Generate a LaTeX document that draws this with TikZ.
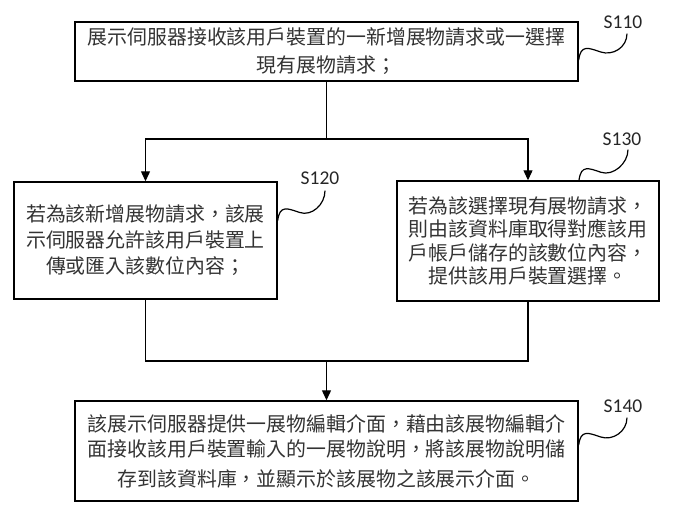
\documentclass[tikz,border=0pt]{standalone}
\usepackage{fontspec}
\setmainfont{Noto Sans CJK TC}
\newfontfamily\labelfont{Carlito}
\usetikzlibrary{arrows.meta}
\begin{document}
\begin{tikzpicture}[x=1pt,y=-1pt,
    stepbox/.style={draw=black,line width=1.4pt,inner sep=0pt,align=center,text=black!80},
    steplabel/.style={font=\labelfont\fontsize{19.5}{20}\selectfont,text=black!85,inner sep=0pt},
    link/.style={line width=1.2pt},
    arr/.style={link,-{Triangle[length=10pt,width=9pt]}},
    squig/.style={line width=1.2pt,to path={.. controls +(2,-16) and +(-12,-4) .. +(22,-8)
      .. controls +(12,4) and +(0,14) .. (\tikztotarget)}}]
  \useasboundingbox (0,0) rectangle (697,516);
  \node[stepbox,minimum width=503pt,minimum height=59pt,font=\fontsize{19.9}{28}\selectfont]
    (s110) at (326.5,51.5) {展示伺服器接收該用戶裝置的一新增展物請求或一選擇\\現有展物請求；};
  \node[stepbox,minimum width=263pt,minimum height=117pt,font=\fontsize{19.9}{26}\selectfont]
    (s120) at (145.5,240.5) {若為該新增展物請求，該展\\示伺服器允許該用戶裝置上\\傳或匯入該數位內容；};
  \node[stepbox,minimum width=262pt,minimum height=120pt,font=\fontsize{19.9}{23.5}\selectfont]
    (s130) at (528,241) {若為該選擇現有展物請求，\\則由該資料庫取得對應該用\\戶帳戶儲存的該數位內容，\\提供該用戶裝置選擇。};
  \node[stepbox,minimum width=503pt,minimum height=100pt,font=\fontsize{19.9}{25}\selectfont]
    (s140) at (326.5,451) {該展示伺服器提供一展物編輯介面，藉由該展物編輯介\\面接收該用戶裝置輸入的一展物說明，將該展物說明儲\\[5pt]存到該資料庫，並顯示於該展物之該展示介面。};
  \node[steplabel] (l110) at (623,22) {S110};
  \node[steplabel] (l120) at (320,178) {S120};
  \node[steplabel] (l130) at (622,139) {S130};
  \node[steplabel] (l140) at (623,406) {S140};
  \coordinate (split) at (326.5,139);
  \coordinate (merge) at (326.5,361);
  \begin{scope}[link]
    \draw (s110.south) -- (split);
    \draw[arr] (split) -| (s120.north);
    \draw[arr] (split) -| (s130.north);
    \draw (s120.south) |- (merge);
    \draw (s130.south) |- (merge);
    \draw[arr] (merge) -- (s140.north);
  \end{scope}
  \draw[squig] ([shift={(0,8.5)}]s110.east) to ([shift={(4,5)}]l110.south);
  \draw[squig] ([shift={(0,-20)}]s120.east) to ([shift={(5,6)}]l120.south);
  \draw[squig] ([shift={(51,0)}]s130.north) to ([shift={(6,4)}]l130.south);
  \draw[squig] ([shift={(0,-6)}]s140.east) to ([shift={(4,5)}]l140.south);
\end{tikzpicture}
\end{document}
